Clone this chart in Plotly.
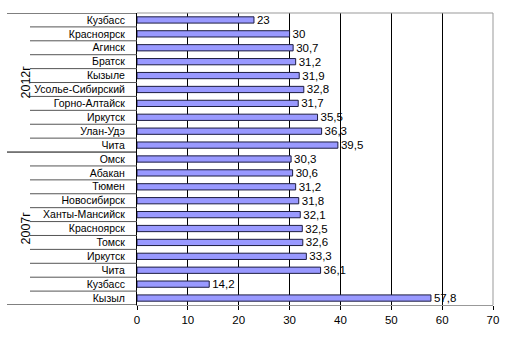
import plotly.graph_objects as go

# Cities by survey year, top to bottom
cities_2012 = ["Кузбасс", "Красноярск", "Агинск", "Братск", "Кызыле",
               "Усолье-Сибирский", "Горно-Алтайск", "Иркутск", "Улан-Удэ", "Чита"]
values_2012 = [23, 30, 30.7, 31.2, 31.9, 32.8, 31.7, 35.5, 36.3, 39.5]

cities_2007 = ["Омск", "Абакан", "Тюмен", "Новосибирск", "Ханты-Мансийск",
               "Красноярск", "Томск", "Иркутск", "Чита", "Кузбасс", "Кызыл"]
values_2007 = [30.3, 30.6, 31.2, 31.8, 32.1, 32.5, 32.6, 33.3, 36.1, 14.2, 57.8]

group_labels = ["2012г", "2007г"]
x_ticks = [0, 10, 20, 30, 40, 50, 60, 70]

names = cities_2012 + cities_2007
values = values_2012 + values_2007
positions = list(range(len(names)))
labels = [str(v).replace(".", ",") for v in values]

W, H = 512, 347
ML, MR, MT, MB = 137, 19, 13, 42
plot_w = W - ML - MR

def px_to_paper(px):
    return (px - ML) / plot_w

font = "Liberation Sans, Arial, sans-serif"

fig = go.Figure(go.Bar(
    x=values, y=positions, orientation="h",
    text=labels, textposition="outside",
    textfont=dict(family=font, size=11.5, color="black"),
    marker=dict(color="#9999FF", line=dict(color="#1c1c40", width=1)),
    width=0.45, cliponaxis=False, constraintext="none",
))

shapes = []
n = len(names)
# separators between city labels
for i in range(n + 1):
    yb = i - 0.5
    if i in (0, len(cities_2012), n):
        x0 = px_to_paper(7)
        col = "black"
    else:
        x0 = px_to_paper(30)
        col = "#555555"
    shapes.append(dict(type="line", xref="paper", yref="y", x0=x0, x1=0,
                       y0=yb, y1=yb, line=dict(color=col, width=1)))
# top and right plot border
shapes.append(dict(type="line", xref="paper", yref="paper", x0=0, x1=1, y0=1, y1=1,
                   line=dict(color="#999999", width=1)))
shapes.append(dict(type="line", xref="paper", yref="paper", x0=1, x1=1, y0=0, y1=1,
                   line=dict(color="#999999", width=1)))

annotations = []
group_centers = [(len(cities_2012) - 1) / 2, len(cities_2012) + (len(cities_2007) - 1) / 2]
for g, c in zip(group_labels, group_centers):
    annotations.append(dict(text=g, xref="paper", yref="y", x=px_to_paper(17), y=c,
                            showarrow=False, textangle=-90,
                            font=dict(family=font, size=12.5, color="black")))

fig.update_layout(
    width=W, height=H,
    margin=dict(l=ML, r=MR, t=MT, b=MB),
    paper_bgcolor="white", plot_bgcolor="white",
    showlegend=False,
    shapes=shapes, annotations=annotations,
    xaxis=dict(range=[0, 70], tickvals=x_ticks, showgrid=True, gridcolor="black",
               gridwidth=1, showline=True, linecolor="#999999", linewidth=1,
               ticks="outside", ticklen=4, tickcolor="black", zeroline=False,
               tickfont=dict(family=font, size=11.5, color="black")),
    yaxis=dict(range=[n - 0.5, -0.5], tickvals=positions, ticktext=names,
               showgrid=False, zeroline=False, showline=True, linecolor="black",
               linewidth=1, ticks="", ticklabelstandoff=9,
               tickfont=dict(family=font, size=10.5, color="black")),
)

fig.write_html("out.html")
